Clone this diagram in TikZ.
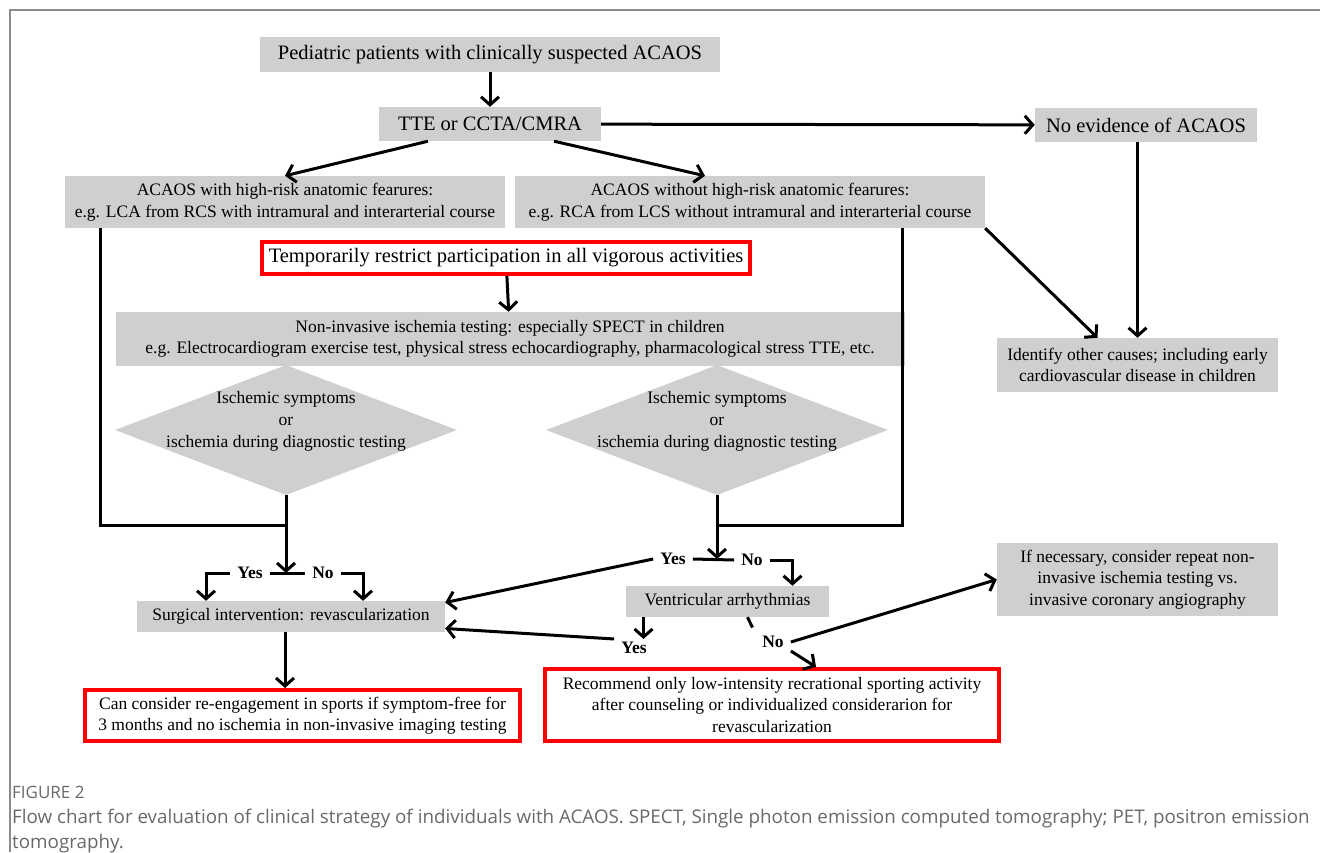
\documentclass[tikz,border=0pt]{standalone}
\usepackage{fontspec}
\setmainfont{Liberation Serif}
\newfontfamily\capfont{Open Sans}
\usepackage{tikz}
\usetikzlibrary{arrows.meta,shapes.geometric}

\definecolor{boxgray}{RGB}{208,206,206}
\definecolor{framegray}{RGB}{140,140,140}
\definecolor{capgray}{RGB}{105,105,105}

\begin{document}
\begin{tikzpicture}[x=1pt,y=-1pt,
	graybox/.style={fill=boxgray,inner sep=0pt,align=center,font=\fontsize{17.5}{21.5}\selectfont},
	bigbox/.style={graybox,font=\fontsize{20.5}{24}\selectfont},
	redbox/.style={draw=red,line width=4pt,fill=white,inner sep=0pt,align=center,font=\fontsize{17.5}{21.5}\selectfont},
	dia/.style={diamond,fill=boxgray,inner sep=0pt,minimum width=342pt,minimum height=130pt},
	diatext/.style={align=center,font=\fontsize{17.5}{22}\selectfont},
	yn/.style={font=\fontsize{17.5}{19}\selectfont\bfseries,inner xsep=7pt,inner ysep=3pt},
	plain/.style={line width=3pt},
	flow/.style={line width=3pt,-{Straight Barb[length=8pt,width=18pt]}}]
		\useasboundingbox (0,0) rectangle (1320,852);
		\draw[framegray,line width=1.2pt] (10,852) -- (10,10) -- (1320,10);
		
		% boxes
		\node[bigbox,minimum width=460pt,minimum height=35pt] (ped) at (490,54.5) {Pediatric patients with clinically suspected ACAOS};
		\node[bigbox,minimum width=222pt,minimum height=34pt] (tte) at (490,124) {TTE or CCTA/CMRA};
		\node[bigbox,minimum width=222pt,minimum height=34pt] (noev) at (1146,125) {No evidence of ACAOS};
		\node[graybox,minimum width=440pt,minimum height=52pt] (high) at (285,202) {ACAOS with high-risk anatomic fearures:\\e.g. LCA from RCS with intramural and interarterial course};
		\node[graybox,minimum width=470pt,minimum height=52pt] (without) at (750,202) {ACAOS without high-risk anatomic fearures:\\e.g. RCA from LCS without intramural and interarterial course};
		\node[redbox,font=\fontsize{20.5}{24}\selectfont,minimum width=488pt,minimum height=32pt] (restrict) at (506,258) {Temporarily restrict participation in all vigorous activities};
		\node[graybox,minimum width=789pt,minimum height=54pt] (noninv) at (510,339) {Non-invasive ischemia testing: especially SPECT in children\\e.g. Electrocardiogram exercise test, physical stress echocardiography, pharmacological stress TTE, etc.};
		\node[dia] (d1) at (286,430) {};
		\node[diatext] (d1t) at (286,421) {Ischemic symptoms\\or\\ischemia during diagnostic testing};
		\node[dia] (d2) at (717,430) {};
		\node[diatext] (d2t) at (717,421) {Ischemic symptoms\\or\\ischemia during diagnostic testing};
		\node[graybox,minimum width=281pt,minimum height=54pt] (ident) at (1137.5,365) {Identify other causes; including early\\cardiovascular disease in children};
		\node[graybox,minimum width=308pt,minimum height=31pt] (surg) at (291,616.5) {Surgical intervention: revascularization};
		\node[graybox,minimum width=203pt,minimum height=31pt] (vent) at (727.5,601.5) {Ventricular arrhythmias};
		\node[graybox,minimum width=281pt,minimum height=73pt] (ifnec) at (1137.5,579.5) {If necessary, consider repeat non-\\invasive ischemia testing vs.\\invasive coronary angiography};
		\node[redbox,minimum width=435pt,minimum height=51pt] (cancon) at (302.5,715.5) {Can consider re-engagement in sports if symptom-free for\\3 months and no ischemia in non-invasive imaging testing};
		\node[redbox,minimum width=454pt,minimum height=72pt] (recom) at (772,705) {Recommend only low-intensity recrational sporting activity\\after counseling or individualized considerarion for\\revascularization};
		
		% yes / no
		\node[yn] (yes1) at (250,573) {Yes};
		\node[yn] (no1) at (323,573) {No};
		\node[yn] (yes2) at (673,559) {Yes};
		\node[yn] (no2) at (752,560) {No};
		\node[yn] (yes3) at (634,648) {Yes};
		\node[yn] (no3) at (773,642) {No};
		\coordinate (j1) at (286,525);
		\coordinate (j2) at (717,525);
		
		% arrows
		\draw[flow] (ped) -- (tte);
		\draw[flow] ([xshift=-62pt]tte.south) -- (high.north);
		\draw[flow] ([xshift=64pt]tte.south) -- ([xshift=-45pt]without.north);
		\draw[flow] (tte) -- (noev);
		\draw[flow] (ident.north |- noev.south) -- (ident.north);
		\draw[flow] (without.south east) -- ([xshift=-40pt]ident.north);
		\draw[flow] (restrict) -- (noninv);
		
		\draw[plain] ([xshift=-185pt]high.south) |- (j1);
		\draw[flow] (d1.south) -- (d1.south |- yes1);
		\draw[plain] (yes1.east) -- (no1.west);
		\draw[flow] (yes1.west) -| ([xshift=-85pt]surg.north);
		\draw[flow] (no1.east) -| ([xshift=72pt]surg.north);
		\draw[flow] ([xshift=-6pt]surg.south) -- ([xshift=-6pt]surg.south |- cancon.north);
		
		\draw[plain] ([xshift=152pt]without.south) |- (j2);
		\draw[flow] (d2.south) -- (d2.south |- yes2);
		\draw[plain] (yes2.east) -- (no2.west);
		\draw[flow] (no2.east) -| ([xshift=65pt]vent.north);
		\draw[flow] (yes2.west) -- ([yshift=14pt]surg.east);
		\draw[flow] ([xshift=-84pt]vent.south) -- ([xshift=-84pt]vent.south |- yes3.north);
		\draw[flow] (yes3.north west) -- ([yshift=-12pt]surg.east);
		\draw[plain,shorten >=6pt] ([xshift=20pt]vent.south) -- (no3.north west);
		\draw[flow] (no3.east) -- (ifnec.west);
		\draw[flow] (no3.south east) -- ([xshift=44pt]recom.north);
		
		% caption
		\node[anchor=base west,inner sep=0pt,text=capgray,font=\capfont\fontsize{17}{20}\selectfont] (fig) at (12,798) {FIGURE 2};
		\node[anchor=north west,inner sep=0pt,align=left,text=capgray,font=\capfont\fontsize{18.8}{25}\selectfont] (cap) at (12,809) {Flow chart for evaluation of clinical strategy of individuals with ACAOS. SPECT, Single photon emission computed tomography; PET, positron emission\\tomography.};
\end{tikzpicture}
\end{document}
